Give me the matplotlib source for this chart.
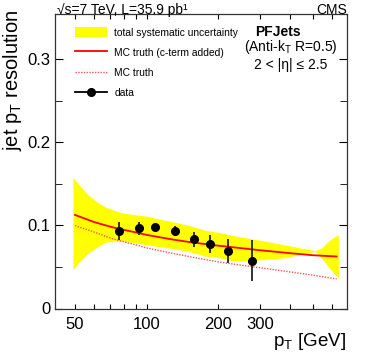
import numpy as np
import matplotlib
matplotlib.use('Agg')
import matplotlib.pyplot as plt
from matplotlib.patches import Patch
from matplotlib.lines import Line2D

plt.rcParams['font.family'] = ['Liberation Sans', 'DejaVu Sans']
plt.rcParams['mathtext.fontset'] = 'custom'
plt.rcParams['mathtext.rm'] = 'Liberation Sans'
plt.rcParams['mathtext.it'] = 'Liberation Sans:italic'
plt.rcParams['mathtext.bf'] = 'Liberation Sans:bold'

# datos
pt_data = [76.7, 92.5, 108.7, 131.5, 158, 184, 220, 278]
res_data = [0.0933, 0.0964, 0.0976, 0.0928, 0.0830, 0.0778, 0.0696, 0.0576]
err_data = [0.0104, 0.0080, 0.0040, 0.0060, 0.0090, 0.0110, 0.0144, 0.0244]

pt_mc = [50, 60, 70, 77, 90, 100, 125, 150, 200, 250, 300, 400, 500, 628]
mc_cterm = [0.1125, 0.1040, 0.0985, 0.0955, 0.0915, 0.0885, 0.0835, 0.0800, 0.0755, 0.0725, 0.0700, 0.0665, 0.0640, 0.0625]
mc_truth = [0.0996, 0.0920, 0.0850, 0.0815, 0.0765, 0.0728, 0.0670, 0.0625, 0.0560, 0.0520, 0.0490, 0.0440, 0.0400, 0.0356]

pt_band = [49, 53, 57, 62, 67, 73, 79, 90, 100, 115, 130, 150, 176, 200, 228, 260, 300, 340, 375, 440, 510, 545, 570, 600, 638]
band_up = [0.157, 0.146, 0.136, 0.128, 0.122, 0.118, 0.115, 0.1125, 0.111, 0.107, 0.104, 0.100, 0.094, 0.0915, 0.088, 0.085, 0.082, 0.079, 0.0768, 0.0728, 0.0695, 0.073, 0.0788, 0.084, 0.0888]
band_lo = [0.047, 0.058, 0.067, 0.074, 0.0796, 0.081, 0.0808, 0.079, 0.0765, 0.074, 0.072, 0.0688, 0.063, 0.0615, 0.0575, 0.057, 0.0585, 0.0598, 0.0608, 0.0648, 0.0685, 0.060, 0.0528, 0.045, 0.0368]

x_ticks = [50, 60, 70, 80, 90, 100, 200, 300, 400, 500, 600]
x_labels = ['50', '', '', '', '', '100', '200', '300', '', '', '']

fig = plt.figure(figsize=(3.74, 3.63), dpi=100)
ax = fig.add_axes([55/374, 1 - 308.5/363, 292/374, 294.5/363])

ax.fill_between(pt_band, band_lo, band_up, color='#ffff00', lw=0)
ax.plot(pt_mc, mc_cterm, color='#ff0000', lw=1.3)
ax.plot(pt_mc, mc_truth, color='#ff5555', lw=1.0, ls=(0, (1, 1)))
ax.errorbar(pt_data, res_data, yerr=err_data, fmt='o', color='black', ms=5.5,
            elinewidth=1.3, ecolor='#222222', capsize=0)

ax.set_xscale('log')
ax.set_xlim(41.2, 694)
ax.set_ylim(0, 0.354)
ax.set_xticks(x_ticks)
ax.set_xticklabels(x_labels)
ax.xaxis.set_minor_locator(matplotlib.ticker.NullLocator())
ax.set_yticks([0, 0.1, 0.2, 0.3])
ax.set_yticklabels(['0', '0.1', '0.2', '0.3'])
ax.set_yticks(np.arange(0.05, 0.35, 0.1), minor=True)
ax.tick_params(axis='both', which='both', direction='in', top=True, right=True, labelsize=12)
ax.tick_params(axis='y', which='major', length=5.8, pad=3.5)
ax.tick_params(axis='y', which='minor', length=4.8)
ax.tick_params(axis='x', which='major', length=3.5, pad=6)
for s in ax.spines.values():
    s.set_linewidth(0.9)
    s.set_color('#333333')

handles = [Patch(facecolor='#ffff00', edgecolor='none'),
           Line2D([], [], color='#ff0000', lw=1.3),
           Line2D([], [], color='#ff5555', lw=1.0, ls=(0, (1, 1))),
           Line2D([], [], color='black', marker='o', ms=5.5, lw=1.3)]
labels = ['total systematic uncertainty', 'MC truth (c-term added)', 'MC truth', 'data']
ax.legend(handles, labels, loc='upper left', bbox_to_anchor=(0.045, 0.98),
          frameon=False, fontsize=7.4, handlelength=3.1, handleheight=1.1,
          labelspacing=0.95, handletextpad=0.7, borderpad=0.2)

fig.text(278/374, 1 - 32/363, 'PFJets', ha='center', va='center', fontsize=10, fontweight='bold')
fig.text(291/374, 1 - 47/363, r'(Anti-k$_\mathrm{T}$ R=0.5)', ha='center', va='center', fontsize=10)
fig.text(291/374, 1 - 65/363, '2 < |η| ≤ 2.5', ha='center', va='center', fontsize=10)

fig.text(57/374, 1 - 14/363, '√s=7 TeV, L=35.9 pb¹', ha='left', va='baseline', fontsize=10)
fig.text(347/374, 1 - 14/363, 'CMS', ha='right', va='baseline', fontsize=10)

fig.text(13/374, 1 - 80/363, r'jet p$_\mathrm{T}$ resolution', rotation=90, ha='center', va='center', fontsize=14.5)
fig.text(346/374, 1 - 341/363, r'p$_\mathrm{T}$ [GeV]', ha='right', va='center', fontsize=13.5)

fig.savefig('out.png', dpi=100)
